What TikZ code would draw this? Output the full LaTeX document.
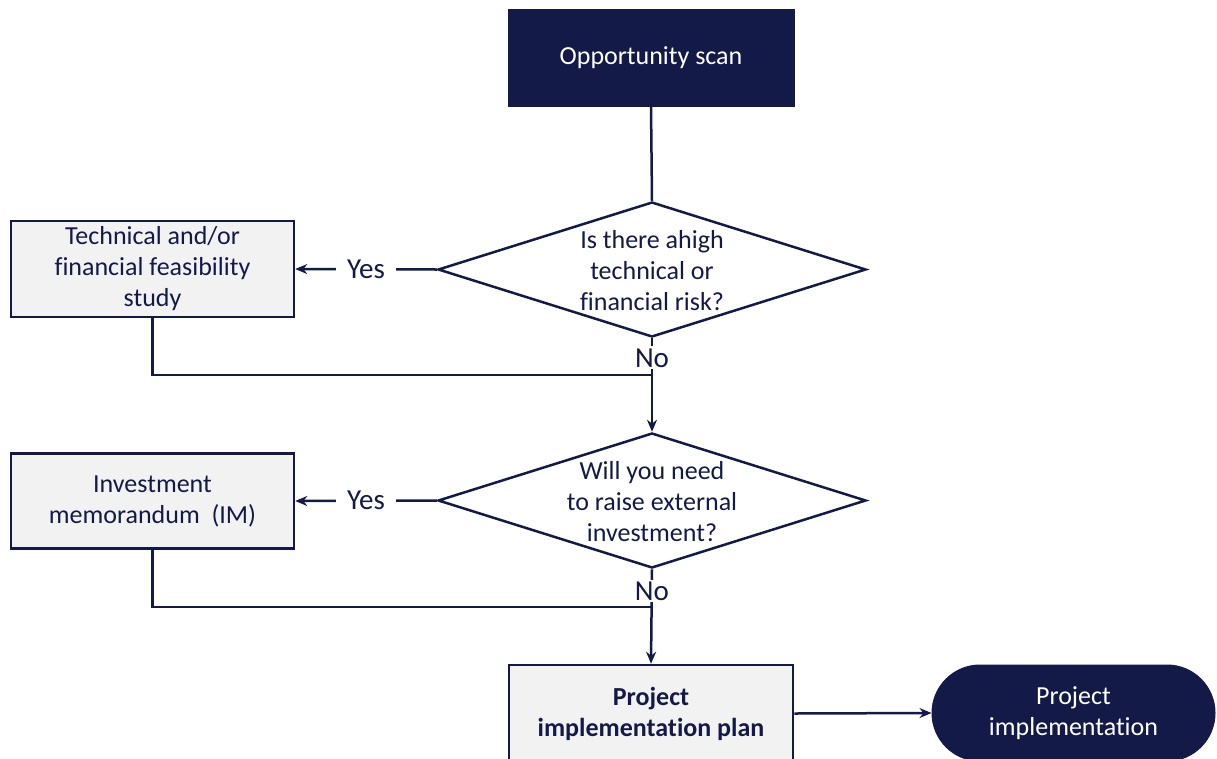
\documentclass[tikz,border=0pt]{standalone}
\usepackage{fontspec}
\setmainfont{Carlito}[Ligatures=NoCommon]
\usetikzlibrary{shapes.geometric,shapes.misc,arrows.meta}
\definecolor{navy}{HTML}{141A48}
\definecolor{boxgray}{HTML}{F2F2F2}
\begin{document}
\begin{tikzpicture}[x=1pt,y=-1pt,
  txt/.style={font=\fontsize{26}{31}\selectfont, align=center, inner sep=0pt},
  darkbox/.style={txt, draw=navy, fill=navy, text=white, line width=1pt},
  graybox/.style={txt, draw=navy, fill=boxgray, text=navy, line width=2.5pt},
  decision/.style={diamond, draw=navy, fill=white, line width=2.5pt, inner sep=0pt, minimum width=428, minimum height=135},
  conn/.style={draw=navy, line width=2.5pt},
  arr/.style={conn, -{Stealth[length=12pt,width=10pt]}},
  lab/.style={font=\fontsize{29}{31}\selectfont, text=navy, fill=white, inner xsep=11pt, inner ysep=2pt}
]
\useasboundingbox (0,0) rectangle (1217,758);

\node[darkbox, minimum width=286, minimum height=97] (os) at (651,57.5) {Opportunity scan};

\node[decision] (d1) at (652,269.5) {};
\node[txt, text=navy] (d1t) at (652,271) {Is there ahigh\\technical or\\financial risk?};
\node[graybox, minimum width=283, minimum height=96] (b1) at (152.5,269) {Technical and/or\\financial feasibility\\study};

\node[decision] (d2) at (652,500.5) {};
\node[txt, text=navy] (d2t) at (652,502) {Will you need\\to raise external\\investment?};
\node[graybox, minimum width=283, minimum height=95] (b2) at (152.5,501) {Investment\\memorandum~~(IM)};

\node[graybox, minimum width=284, minimum height=97, font=\fontsize{26}{31}\selectfont\bfseries] (b3) at (651,713.5) {Project\\implementation plan};
\node[darkbox, rounded rectangle, minimum width=283, minimum height=96] (pi) at (1073.5,713) {Project\\implementation};

\coordinate (j1) at (651,375);
\coordinate (j2) at (651,607);

\draw[conn] (os.south) -- (d1.north);
\draw[arr] (d1.west) -- node[lab] {Yes} (b1.east);
\draw[conn] (b1.south) |- (j1);
\draw[arr] (d1.south) -- node[lab, pos=0.21, inner xsep=2pt] {No} (d2.north);
\draw[arr] (d2.west) -- node[lab] {Yes} (b2.east);
\draw[conn] (b2.south) |- (j2);
\draw[arr] (d2.south) -- node[lab, pos=0.23, inner xsep=2pt] {No} (b3.north);
\draw[arr] (b3.east) -- (pi.west);
\end{tikzpicture}
\end{document}
